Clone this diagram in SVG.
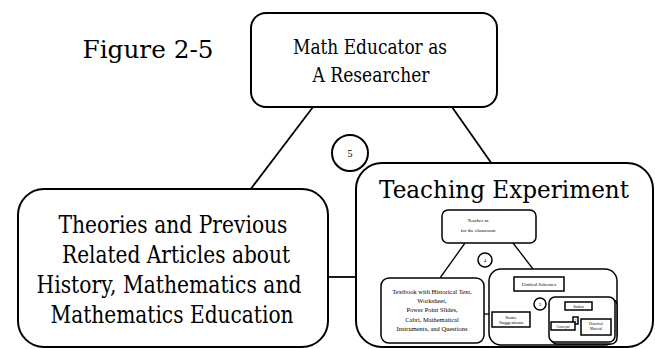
<svg xmlns="http://www.w3.org/2000/svg" width="655" height="349" viewBox="0 0 655 349">
<style>
.box{fill:#fff;stroke:#000;stroke-width:2}
.sbox{fill:#fff;stroke:#000;stroke-width:1.5}
.ln{stroke:#000;stroke-width:1.8;fill:none}
.sln{stroke:#000;stroke-width:1.3;fill:none}
text{font-family:"DejaVu Serif","Liberation Serif",serif;fill:#000;text-anchor:middle}
.small{font-family:"Liberation Serif","Times New Roman",serif}
.tiny{font-family:"Liberation Serif","Times New Roman",serif;font-size:5px}
</style>
<rect width="655" height="349" fill="#fff"/>
<text x="148" y="58" font-size="24" textLength="131" lengthAdjust="spacingAndGlyphs">Figure 2-5</text>
<g id="connectors">
<line class="ln" x1="313" y1="107" x2="250" y2="190"/>
<line class="ln" x1="452" y1="107" x2="492" y2="164"/>
<line class="ln" x1="327" y1="277" x2="357" y2="277"/>
</g>
<g id="circle5">
<circle cx="350" cy="153" r="18" class="box"/>
<text class="small" x="350" y="157" font-size="10">5</text>
</g>
<g id="researcher">
<rect class="box" x="251" y="13" width="246" height="94" rx="15"/>
<text x="370" y="54" font-size="20" textLength="154" lengthAdjust="spacingAndGlyphs">Math Educator as</text>
<text x="371" y="82" font-size="20" textLength="117" lengthAdjust="spacingAndGlyphs">A Researcher</text>
</g>
<g id="theories">
<rect class="box" x="18" y="189" width="310" height="158" rx="26"/>
<text x="173" y="233" font-size="24" textLength="229" lengthAdjust="spacingAndGlyphs">Theories and Previous</text>
<text x="176" y="263" font-size="24" textLength="228" lengthAdjust="spacingAndGlyphs">Related Articles about</text>
<text x="169" y="293" font-size="24" textLength="265" lengthAdjust="spacingAndGlyphs">History, Mathematics and</text>
<text x="172" y="323" font-size="24" textLength="243" lengthAdjust="spacingAndGlyphs">Mathematics Education</text>
</g>
<g id="teaching">
<rect class="box" x="356" y="163" width="297" height="184" rx="26"/>
<text x="504" y="198" font-size="25" textLength="250" lengthAdjust="spacingAndGlyphs">Teaching Experiment</text>
<g id="inner-connectors">
<line class="sln" x1="465" y1="243" x2="440" y2="278"/>
<line class="sln" x1="513" y1="243" x2="533" y2="269"/>
<line class="sln" x1="484" y1="314" x2="489" y2="314"/>
<line class="sln" x1="530" y1="291" x2="515" y2="312"/>
<line class="sln" x1="547" y1="291" x2="552" y2="297"/>
<line class="sln" x1="530" y1="321" x2="549" y2="321"/>
<line class="sln" x1="570" y1="310" x2="565" y2="322"/>
<line class="sln" x1="587" y1="310" x2="592" y2="319"/>
</g>
<g id="teacher">
<rect class="sbox" x="442" y="210" width="94" height="33" rx="6"/>
<text class="tiny" x="478" y="222">Teacher as</text>
<text class="tiny" x="478" y="232">for the classroom</text>
</g>
<g id="circle4">
<circle class="sbox" cx="485" cy="260" r="7"/>
<text class="small" x="485" y="262" font-size="5">4</text>
</g>
<g id="textbook">
<rect class="sbox" x="381" y="278" width="103" height="65" rx="8"/>
<text class="small" x="432" y="294" font-size="6.5">Textbook with Historical Text,</text>
<text class="small" x="432" y="303" font-size="6.5">Worksheet,</text>
<text class="small" x="432" y="312" font-size="6.5">Power Point Slides,</text>
<text class="small" x="432" y="322" font-size="6.5">Cabri, Mathematical</text>
<text class="small" x="432" y="331" font-size="6.5">Instruments, and Questions</text>
</g>
<g id="unified-group">
<rect class="sbox" x="489" y="269" width="128" height="76" rx="12"/>
</g>
<g id="unified">
<rect class="sbox" x="514" y="277" width="50" height="14"/>
<text class="tiny" x="539" y="286">Unified Schemes</text>
</g>
<g id="circle3">
<circle class="sbox" cx="540" cy="304" r="6"/>
<text class="small" x="540" y="306" font-size="5">3</text>
</g>
<g id="suggestions">
<rect class="sbox" x="492" y="312" width="38" height="15"/>
<text class="tiny" x="511" y="318.5" font-size="4">Some</text>
<text class="tiny" x="511" y="324" font-size="4">Suggestions</text>
</g>
<g id="inner-group">
<rect class="sbox" x="551" y="299" width="66" height="45" rx="6"/>
<rect class="sbox" x="549" y="297" width="66" height="45" rx="6"/>
</g>
<g id="inner-top">
<rect class="sbox" x="565" y="302" width="27" height="8"/>
<text class="small" x="578.5" y="307.5" font-size="3.5">Student</text>
</g>
<g id="inner-mid">
<rect class="sbox" x="573" y="317" width="5" height="7"/>
<text class="small" x="575.5" y="322" font-size="3.5">2</text>
</g>
<g id="inner-left">
<rect class="sbox" x="551" y="322" width="24" height="8"/>
<text class="small" x="563" y="327.5" font-size="3.5">Concepts</text>
</g>
<g id="inner-right">
<rect class="sbox" x="581" y="319" width="30" height="16"/>
<text class="small" x="596" y="325" font-size="3.5">Historical</text>
<text class="small" x="596" y="330" font-size="3.5">Material</text>
</g>
</g>
</svg>
